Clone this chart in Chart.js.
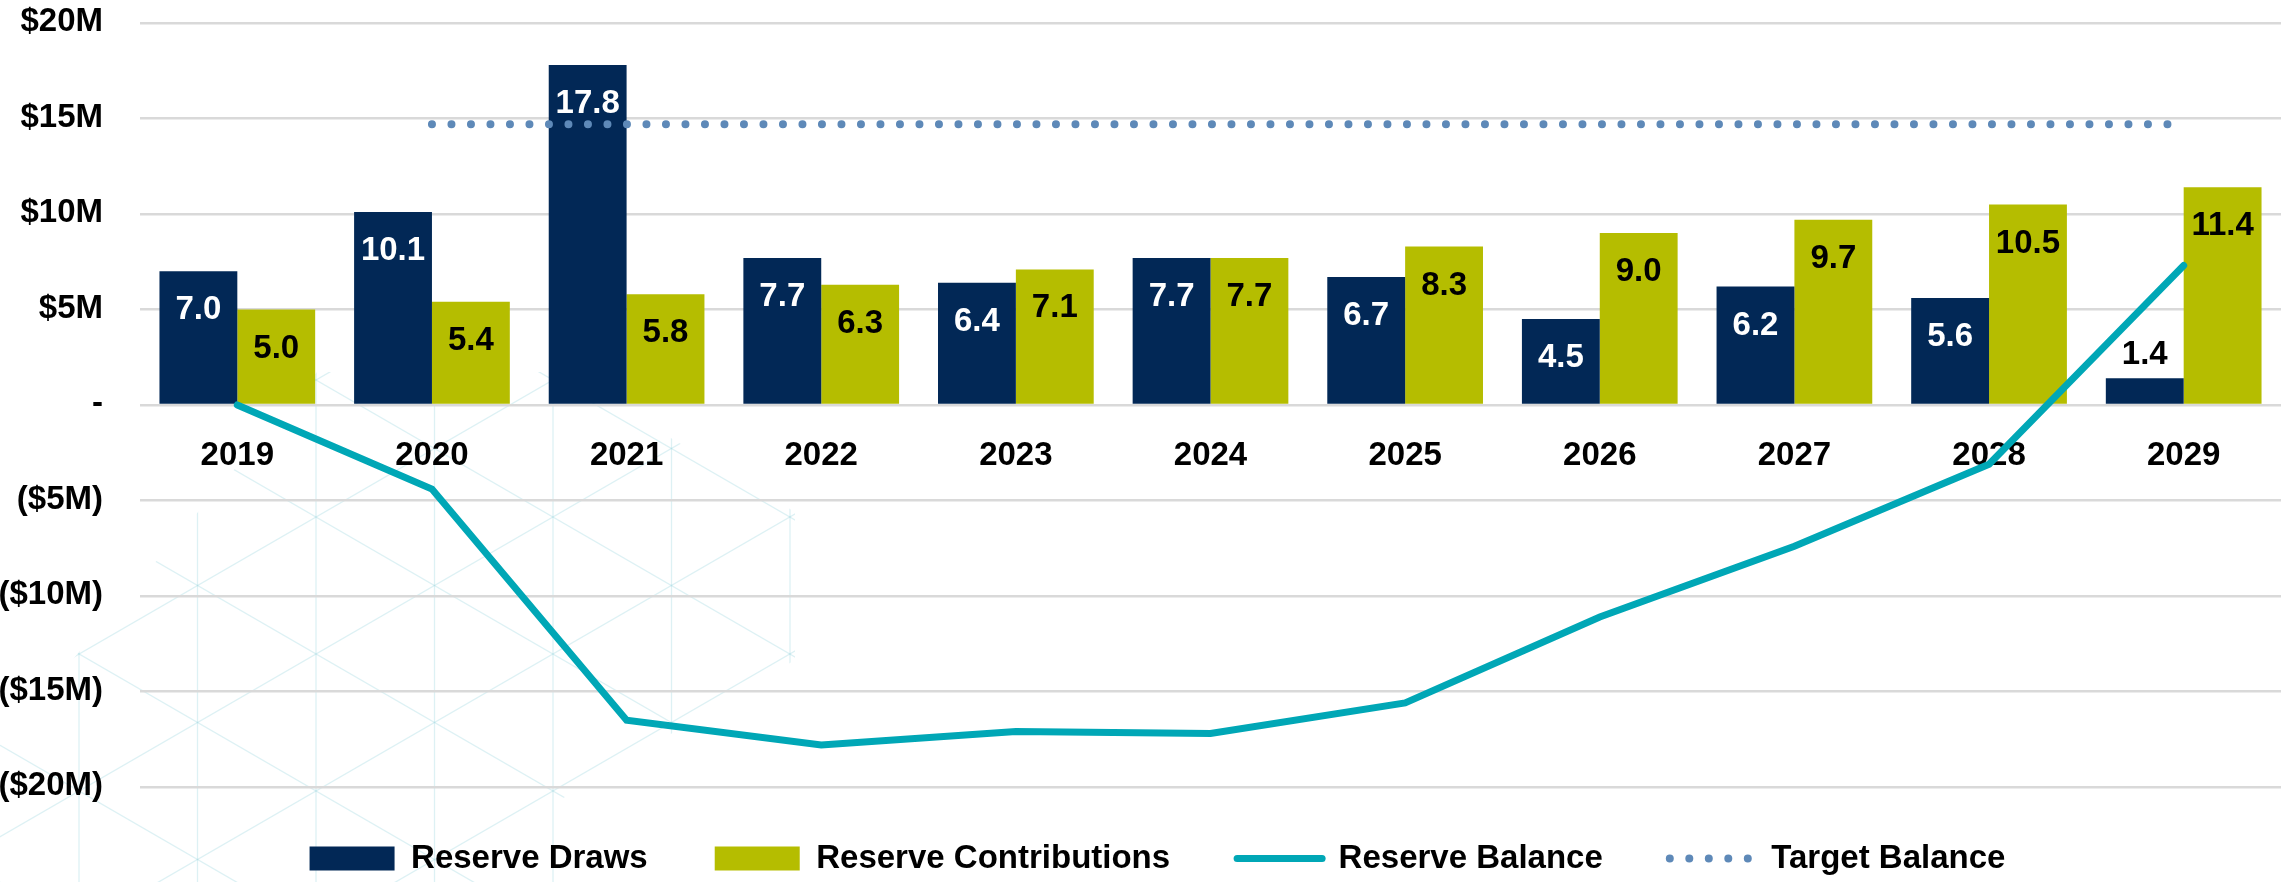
<!DOCTYPE html>
<html>
<head>
<meta charset="utf-8">
<script src="https://cdn.jsdelivr.net/npm/chart.js@4/dist/chart.umd.min.js"></script>
<style>
html,body{margin:0;padding:0;background:#fff;overflow:hidden}
#wrap{width:2281px;height:882px;position:relative;background:#fff}
</style>
</head>
<body>
<div id="wrap"><canvas id="c"></canvas></div>
<script>
// ---- data ----
const categories = ['2019','2020','2021','2022','2023','2024','2025','2026','2027','2028','2029'];
const reserveDraws = [7.0, 10.1, 17.8, 7.7, 6.4, 7.7, 6.7, 4.5, 6.2, 5.6, 1.4];
const reserveContributions = [5.0, 5.4, 5.8, 6.3, 7.1, 7.7, 8.3, 9.0, 9.7, 10.5, 11.4];
const reserveBalance = [0.0, -4.4, -16.5, -17.8, -17.1, -17.2, -15.6, -11.1, -7.4, -3.1, 7.3];
const targetBalance = [null, 14.7, 14.7, 14.7, 14.7, 14.7, 14.7, 14.7, 14.7, 14.7, 14.7];
const yTickValues = [20, 15, 10, 5, 0, -5, -10, -15, -20];
const yTickLabels = ['$20M', '$15M', '$10M', '$5M', '-', '($5M)', '($10M)', '($15M)', '($20M)'];
const seriesNames = ['Reserve Draws', 'Reserve Contributions', 'Reserve Balance', 'Target Balance'];

// ---- styles ----
const NAVY = '#022856';
const OLIVE = '#B5BD00';
const TEAL = '#00A7B6';
const DOTS = '#5E89B8';
const GRID = '#D9D9D9';

// use a narrow face when the system has one, otherwise regular Liberation Sans
function hasFont(name) {
  const c = document.createElement('canvas').getContext('2d');
  c.font = 'bold 40px monospace';
  const a = c.measureText('Reserve Contributions 2019').width;
  c.font = "bold 40px '" + name + "', monospace";
  const b = c.measureText('Reserve Contributions 2019').width;
  return Math.abs(a - b) > 1;
}
const NARROW = hasFont('Liberation Sans Narrow');
const FONT = NARROW ? "'Liberation Sans Narrow', 'Arial Narrow', sans-serif"
                    : "'Liberation Sans', Arial, Helvetica, sans-serif";
const FSIZE = NARROW ? 36 : 33;
const LEGEND_PAD = NARROW ? 103 : 67;
const LEGEND_NUDGE = NARROW ? 51 : 12;
const XTICK_PAD = NARROW ? 25 : 23;

// faint decorative lattice in the background (lower left)
const latticePlugin = {
  id: 'lattice',
  beforeDraw(chart) {
    const ctx = chart.ctx;
    const x0 = 79, y0 = 517, dx = 118.5, dy = 68.5, s = dy / dx;
    ctx.save();
    ctx.beginPath();
    ctx.moveTo(0, 745);
    ctx.lineTo(317, 372);
    ctx.lineTo(560, 372);
    ctx.lineTo(795, 512);
    ctx.lineTo(795, 660);
    ctx.lineTo(560, 800);
    ctx.lineTo(560, 882);
    ctx.lineTo(0, 882);
    ctx.closePath();
    ctx.clip();
    ctx.lineWidth = 1.3;
    ctx.strokeStyle = 'rgba(150, 210, 222, 0.32)';
    for (let k = -2; k <= 8; k++) {
      const x = x0 + k * dx;
      ctx.beginPath(); ctx.moveTo(x, 300); ctx.lineTo(x, 882); ctx.stroke();
    }
    for (let m = -12; m <= 12; m++) {
      const off = m * 2 * dy;
      ctx.beginPath();
      ctx.moveTo(-50, y0 + off + (-50 - x0) * s);
      ctx.lineTo(900, y0 + off + (900 - x0) * s);
      ctx.stroke();
      ctx.beginPath();
      ctx.moveTo(-50, y0 + off - (-50 - x0) * s);
      ctx.lineTo(900, y0 + off - (900 - x0) * s);
      ctx.stroke();
    }
    ctx.restore();
  }
};

// y axis tick labels, placed with the library's y scale
const yLabelPlugin = {
  id: 'yLabels',
  afterDraw(chart) {
    const ctx = chart.ctx;
    const y = chart.scales.y;
    const x = chart.chartArea.left - 37;
    ctx.save();
    ctx.font = 'bold ' + FSIZE + 'px ' + FONT;
    ctx.fillStyle = '#000';
    ctx.textAlign = 'right';
    ctx.textBaseline = 'middle';
    yTickValues.forEach((v, i) => {
      ctx.fillText(yTickLabels[i], x, y.getPixelForValue(v) - 1);
    });
    ctx.restore();
  }
};

// value labels on the bars
const barLabelPlugin = {
  id: 'barLabels',
  afterDatasetsDraw(chart) {
    const ctx = chart.ctx;
    ctx.save();
    ctx.font = 'bold ' + FSIZE + 'px ' + FONT;
    ctx.textAlign = 'center';
    ctx.textBaseline = 'middle';
    [0, 1].forEach(di => {
      const meta = chart.getDatasetMeta(di);
      const vals = chart.data.datasets[di].data;
      meta.data.forEach((bar, i) => {
        const h = bar.base - bar.y;
        const txt = vals[i].toFixed(1);
        let ty, col;
        if (h > 60) {
          ty = bar.y + 39;
          col = di === 0 ? '#FFFFFF' : '#000000';
        } else {
          ty = bar.y - 23;
          col = '#000000';
        }
        ctx.fillStyle = col;
        ctx.fillText(txt, bar.x, ty);
      });
    });
    ctx.restore();
  }
};

// move legend row up a little (it overlaps the empty band under the plot)
const legendNudge = {
  id: 'legendNudge',
  afterLayout(chart) {
    if (chart.legend) chart.legend.top -= LEGEND_NUDGE;
  }
};

Chart.defaults.font.family = FONT;
Chart.defaults.font.size = FSIZE;
Chart.defaults.font.weight = 'bold';
Chart.defaults.color = '#000';

const baseLabels = Chart.defaults.plugins.legend.labels.generateLabels;

new Chart(document.getElementById('c'), {
  type: 'bar',
  data: {
    labels: categories,
    datasets: [
      { type: 'bar', label: seriesNames[0], data: reserveDraws, backgroundColor: NAVY, borderWidth: 0,
        categoryPercentage: 0.8, barPercentage: 1.0, order: 2, pointStyle: 'rect' },
      { type: 'bar', label: seriesNames[1], data: reserveContributions, backgroundColor: OLIVE, borderWidth: 0,
        categoryPercentage: 0.8, barPercentage: 1.0, order: 2, pointStyle: 'rect' },
      { type: 'line', label: seriesNames[2], data: reserveBalance, borderColor: TEAL, backgroundColor: TEAL,
        borderWidth: 7, pointRadius: 0, pointHoverRadius: 0, tension: 0, borderCapStyle: 'round',
        fill: false, order: 1, pointStyle: 'line' },
      { type: 'line', label: seriesNames[3], data: targetBalance, borderColor: DOTS, backgroundColor: DOTS,
        borderWidth: 8, borderDash: [0, 19.5], borderCapStyle: 'round', pointRadius: 0, pointHoverRadius: 0,
        tension: 0, fill: false, spanGaps: false, order: 1, pointStyle: 'line' }
    ]
  },
  options: {
    responsive: true,
    maintainAspectRatio: false,
    animation: false,
    devicePixelRatio: 1,
    layout: { padding: { left: 34, top: 23, right: 0, bottom: 0 } },
    scales: {
      x: {
        type: 'category',
        position: { y: 0 },
        grid: { display: false },
        border: { display: false },
        ticks: { color: '#000', font: { size: FSIZE, weight: 'bold' }, padding: XTICK_PAD, maxRotation: 0, autoSkip: false }
      },
      y: {
        min: -20,
        max: 20,
        afterFit(scale) { scale.width = 106; },
        ticks: { display: false, stepSize: 5 },
        border: { display: false },
        grid: { color: GRID, lineWidth: 2.5, drawTicks: false }
      }
    },
    plugins: {
      tooltip: { enabled: false },
      legend: {
        position: 'bottom',
        maxHeight: 95,
        labels: {
          usePointStyle: true,
          pointStyleWidth: 85,
          boxHeight: 24,
          padding: LEGEND_PAD,
          color: '#000',
          font: { size: FSIZE, weight: 'bold' },
          sort: (a, b) => a.datasetIndex - b.datasetIndex,
          generateLabels: (chart) => baseLabels(chart).map(item => {
            const ds = chart.data.datasets[item.datasetIndex];
            if (ds.type === 'line') {
              item.strokeStyle = ds.borderColor;
              item.lineWidth = ds.borderWidth;
              item.lineCap = 'round';
              item.lineDash = ds.borderDash || [];
            }
            return item;
          })
        }
      }
    }
  },
  plugins: [latticePlugin, yLabelPlugin, barLabelPlugin, legendNudge]
});
</script>
</body>
</html>
